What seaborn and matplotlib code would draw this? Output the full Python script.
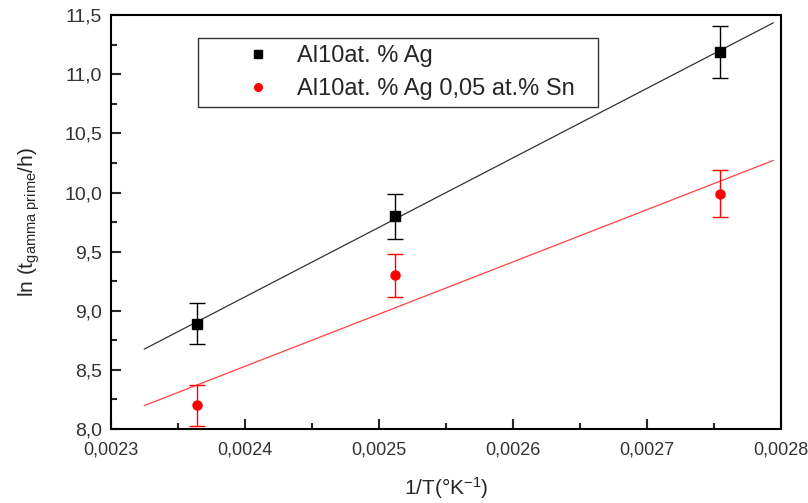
#Arrhenius-type plot of ln(t) vs 1/T for two alloys
import numpy as np
import pandas as pd
import matplotlib
matplotlib.use('Agg')
import matplotlib.pyplot as plt
import seaborn as sns
from matplotlib.ticker import FuncFormatter, MultipleLocator

#data
inv_T = [0.002364, 0.002512, 0.002754]
ln_t_ag = [8.89, 9.80, 11.19]
err_ag = [0.175, 0.19, 0.22]
ln_t_sn = [8.20, 9.30, 9.99]
err_sn = [0.17, 0.18, 0.20]
fit_range = [0.002325, 0.002794]

label_ag = 'Al10at. % Ag'
label_sn = 'Al10at. % Ag 0,05 at.% Sn'

sns.set_style('ticks')
plt.rcParams['font.family'] = ['Liberation Sans', 'DejaVu Sans']
plt.rcParams['mathtext.fontset'] = 'custom'
plt.rcParams['mathtext.rm'] = 'Liberation Sans'
plt.rcParams['mathtext.it'] = 'Liberation Sans'
plt.rcParams['xtick.major.size'] = 7
plt.rcParams['ytick.major.size'] = 7

fig, ax = plt.subplots(figsize=(8.08, 5.03), dpi=100)
fig.subplots_adjust(left=0.137, right=0.967, top=0.97, bottom=0.147)

#linear fits
xs = np.array(fit_range)
rows = []
for name, y in [(label_ag, ln_t_ag), (label_sn, ln_t_sn)]:
    k, b = np.polyfit(inv_T, y, 1)
    for xv in xs:
        rows.append({'x': xv, 'y': k * xv + b, 'series': name})
fits = pd.DataFrame(rows)
sns.lineplot(data=fits, x='x', y='y', hue='series',
             palette={label_ag: '#333333', label_sn: '#ff4040'},
             lw=0.9, legend=False, ax=ax)

ax.errorbar(inv_T, ln_t_ag, yerr=err_ag, fmt='s', color='black', ms=6.5,
            capsize=6, elinewidth=1, capthick=1, label=label_ag)
ax.errorbar(inv_T, ln_t_sn, yerr=err_sn, fmt='o', color='red', ms=6.5,
            capsize=6, elinewidth=1, capthick=1, label=label_sn)

ax.set_xlim(0.0023, 0.0028)
ax.set_ylim(8.0, 11.5)
ax.xaxis.set_major_locator(MultipleLocator(0.0001))
ax.xaxis.set_minor_locator(MultipleLocator(0.00005))
ax.yaxis.set_major_locator(MultipleLocator(0.5))
ax.yaxis.set_minor_locator(MultipleLocator(0.25))
ax.xaxis.set_major_formatter(FuncFormatter(lambda v, p: ('%.4f' % v).replace('.', ',')))
ax.yaxis.set_major_formatter(FuncFormatter(lambda v, p: ('%.1f' % v).replace('.', ',')))

ax.tick_params(axis='both', which='major', direction='in', length=7, width=1.5,
               labelsize=14, labelcolor='#333333', bottom=True, left=True,
               top=False, right=False, pad=6)
ax.tick_params(axis='both', which='minor', direction='in', length=4, width=1.5,
               bottom=True, left=True, top=False, right=False)
ax.tick_params(axis='x', which='major', labelsize=13, pad=9)

for s in ax.spines.values():
    s.set_visible(True)
    s.set_color('black')
    s.set_linewidth(1.5)

ax.set_xlabel('1/T(°K$^{-1}$)', fontsize=15, labelpad=12)
ax.set_ylabel('ln (t$_{gamma\\ prime}$/h)', fontsize=15, labelpad=16)

handles, labels = ax.get_legend_handles_labels()
handles = [h[0] for h in handles]
leg = ax.legend(handles, labels, loc='upper left',
                bbox_to_anchor=(0.13, 0.783, 0.597, 0.161), mode='expand',
                borderaxespad=0, fontsize=17, frameon=True, fancybox=False,
                edgecolor='black', handletextpad=-0.6, borderpad=0.3,
                labelspacing=0.45, handlelength=4.5, markerscale=0.85)
leg.get_frame().set_linewidth(1)

plt.savefig('out.png', dpi=100)
